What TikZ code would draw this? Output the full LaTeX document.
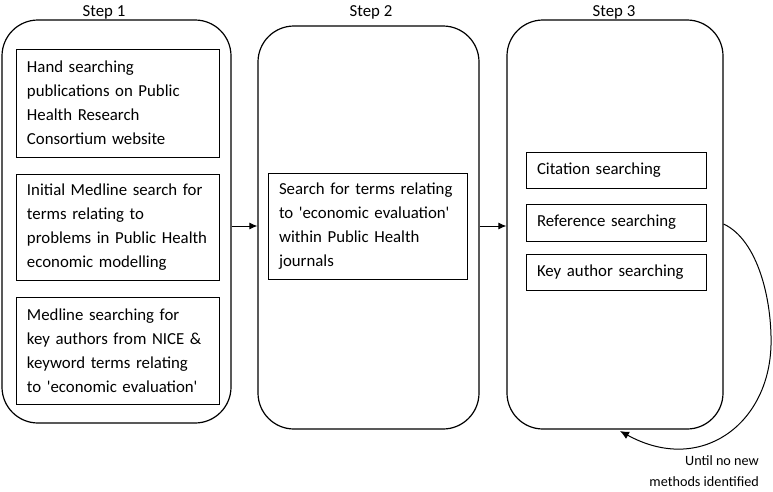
\documentclass[tikz,border=0pt]{standalone}
\usepackage{fontspec}
\setmainfont{Carlito}[Ligatures=TeXOff]
\usetikzlibrary{arrows.meta}
\begin{document}
\begin{tikzpicture}[x=1pt,y=-1pt,
  container/.style={draw, line width=1.2pt, rounded corners=36pt, inner sep=0pt},
  stepbox/.style={draw, line width=0.9pt, inner xsep=11pt, inner ysep=0pt, align=left,
    font=\fontsize{16.8}{24}\selectfont},
  steplabel/.style={font=\fontsize{16.8}{18}\selectfont, inner sep=0pt, anchor=base},
  conn/.style={line width=1pt, -{Latex[length=8pt,width=7pt]}},
  note/.style={font=\fontsize{14.2}{21}\selectfont, align=right, inner sep=0pt}]
\useasboundingbox (0,0) rectangle (773,491);

% containers
\node[container, minimum width=229pt, minimum height=403pt] (s1) at (116.5,221.5) {};
\node[container, minimum width=221pt, minimum height=403pt] (s2) at (368.5,227.5) {};
\node[container, minimum width=216pt, minimum height=409pt] (s3) at (615,224.5) {};

% step labels
\node[steplabel] (l1) at (104,16) {Step 1};
\node[steplabel] (l2) at (371,16) {Step 2};
\node[steplabel] (l3) at (614,16) {Step 3};

% step 1 boxes
\node[stepbox, text width=181pt, minimum height=108pt] (b1) at (117.5,103)
  {Hand searching\\\mbox{publications on Public}\\Health Research\\Consortium website};
\node[stepbox, text width=181pt, minimum height=106pt] (b2) at (117.5,227)
  {\mbox{Initial Medline search for}\\terms relating to\\\mbox{problems in Public Health}\\economic modelling};
\node[stepbox, text width=181pt, minimum height=107pt] (b3) at (117.5,350.5)
  {Medline searching for\\\mbox{key authors from NICE \&}\\keyword terms relating\\\mbox{to 'economic evaluation'}};

% step 2 box
\node[stepbox, text width=177pt, minimum height=106pt] (c1) at (367.5,226)
  {\mbox{Search for terms relating}\\\mbox{to 'economic evaluation'}\\within Public Health\\journals};

% step 3 boxes
\node[stepbox, text width=158pt, minimum height=36pt] (d1) at (616,170) {Citation searching};
\node[stepbox, text width=158pt, minimum height=37pt] (d2) at (616,222.5) {Reference searching};
\node[stepbox, text width=158pt, minimum height=36pt] (d3) at (616,272) {Key author searching};

% connectors
\draw[conn] (s1.east |- 0,226) -- (s2.west |- 0,226);
\draw[conn] (s2.east |- 0,226) -- (s3.west |- 0,226);

\coordinate (loopend) at (620,431);
\draw[line width=1pt, -{Latex[length=9pt,width=8pt]}] (s3.east |- 0,224)
  .. controls (758,240) and (772,300) .. (771,345)
  .. controls (769,425) and (700,475) .. (loopend);

\node[note, anchor=south east] (n1) at (759,487) {Until no new\\methods identified};
\end{tikzpicture}
\end{document}
